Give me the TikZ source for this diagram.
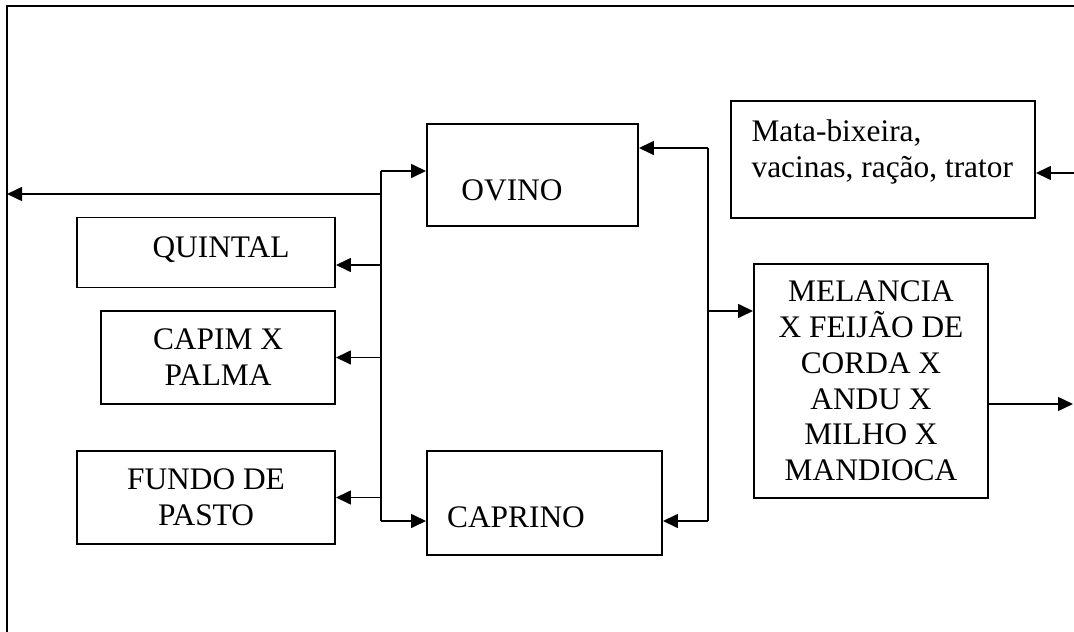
\documentclass[tikz,border=0pt]{standalone}
\usepackage{fontspec}
\setmainfont{Liberation Serif}
\usetikzlibrary{arrows.meta, positioning, calc}

\begin{document}
\begin{tikzpicture}[
  x=0.36pt, y=-0.36pt,
  every node/.style={font=\fontsize{11.3}{12.9}\selectfont},
  blk/.style 2 args={rectangle, draw, line width=0.7pt, inner sep=0pt, align=center,
                     minimum width=#1*0.36pt, minimum height=#2*0.36pt},
  txt/.style={anchor=base, inner sep=0pt},
  arr/.style={-{Triangle[length=5.4pt, width=5pt]}, line width=0.7pt},
  ln/.style={line width=0.7pt}
]
\useasboundingbox (0,0) rectangle (1074,632);
\clip (0,0) rectangle (1074,632);

%% --- outer frame ---
\draw[ln] (7,6) rectangle (1090,650);

%% --- animals (middle column) ---
\node[blk={211}{102}] (ovino) at (532.5,175) {};
\node[txt] (ovinotxt) at (512,200) {OVINO};
\node[blk={235}{104}] (caprino) at (544.5,503) {};
\node[txt] (caprinotxt) at (516,527) {CAPRINO};

%% --- pasture (left column) ---
\node[blk={258}{70}] (quintal) at (206,252.5) {};
\node[txt] (quintaltxt) at (221,258) {QUINTAL};
\node[blk={234}{93}] (capim) at (218,357.5) {CAPIM X\\PALMA};
\node[blk={258}{93}] (fundo) at (206,497.5) {FUNDO DE\\PASTO};

%% --- inputs and crops (right column) ---
\node[blk={304}{117}] (mata) at (883,159.5) {};
\node[anchor=base west, align=left, inner sep=0pt] (matatxt) at (751,177)
  {Mata-bixeira,\\vacinas, ração, trator};
\node[blk={234}{234}] (melancia) at (871,381)
  {MELANCIA\\X FEIJÃO DE\\CORDA X\\ANDU X\\MILHO X\\MANDIOCA};

%% --- bus points and frame ends ---
\coordinate (lbtop) at (381,171);
\coordinate (lbbot) at (381,521);
\coordinate (rbtop) at (708,148);
\coordinate (rbbot) at (708,521);
\coordinate (edgel) at (7,194);
\coordinate (edger1) at (1074,173);
\coordinate (edger2) at (1073,404);

%% --- left bus ---
\draw[ln] (lbtop) -- (lbbot);
\draw[arr] (lbtop) -- (ovino.west |- lbtop);
\draw[arr] (lbbot) -- (caprino.west |- lbbot);
\draw[arr] (lbtop |- edgel) -- (edgel);
\draw[arr] (lbtop |- 0,265) -- (quintal.east |- 0,265);
\draw[arr] (lbtop |- capim.east) -- (capim.east);
\draw[arr] (lbtop |- fundo.east) -- (fundo.east);

%% --- right bus ---
\draw[ln] (rbtop) -- (rbbot);
\draw[arr] (rbtop) -- (ovino.east |- rbtop);
\draw[arr] (rbbot) -- (caprino.east |- rbbot);
\draw[arr] (rbtop |- 0,311) -- (melancia.west |- 0,311);
\draw[arr] (edger1) -- (mata.east |- edger1);
\draw[arr] (melancia.east |- edger2) -- (edger2);

\end{tikzpicture}
\end{document}
